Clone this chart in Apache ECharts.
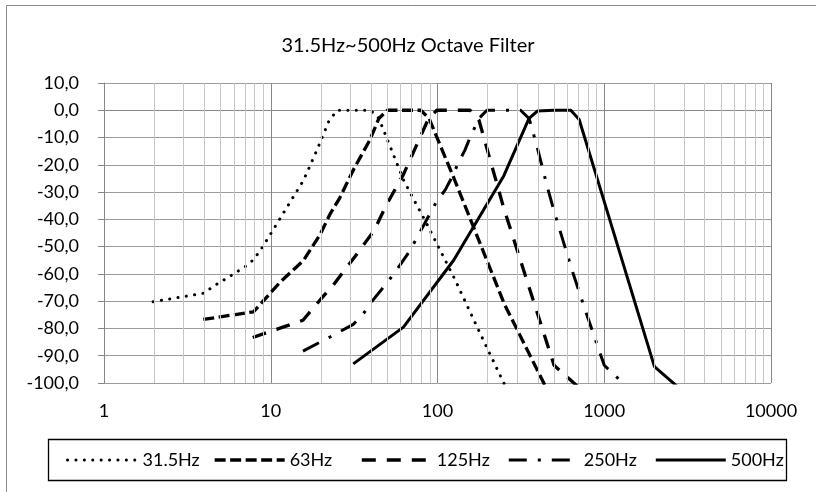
<!DOCTYPE html>
<html>
<head>
<meta charset="utf-8">
<script src="https://cdn.jsdelivr.net/npm/echarts@6/dist/echarts.min.js"></script>
<style>html,body{margin:0;padding:0;background:#fff}#c{width:816px;height:492px}</style>
</head>
<body>
<div id="c"></div>
<script>
// ---- data ----
const seriesNames = ['31.5Hz', '63Hz', '125Hz', '250Hz', '500Hz'];

const freq31 = [1.97, 3.94, 4.74, 5.75, 7.0, 7.88, 8.83, 9.9, 15.75, 19.1, 22.3, 25, 31.5, 39.7, 44.5, 63, 86, 126, 176, 252, 504];
const db31   = [-70.2, -67.1, -63.8, -60.7, -57.4, -54.8, -50.6, -45.7, -25.6, -14, -4, 0, 0, 0, -3, -26, -41.5, -61.5, -80.5, -100.5, -125];

const freq63 = [3.94, 7.875, 11.4, 15.75, 19.8, 22.7, 26, 31.5, 39.3, 44.5, 50, 63, 79.4, 89, 126, 252, 504];
const db63   = [-76.7, -73.9, -63, -55, -45.5, -38, -32, -21.5, -10.9, -3, 0, 0, 0, -3, -25.2, -71.1, -108];

const freq125 = [7.8, 15.6, 20.5, 23.5, 29.8, 33.6, 37.6, 41.9, 45.2, 49.4, 62.5, 88.4, 99, 125, 157, 177, 250, 500, 1000];
const db125   = [-83.3, -77, -68.4, -64.4, -56.1, -51.9, -47.8, -43.9, -39.6, -34.7, -23.5, -3, 0, 0, 0, -3.5, -36, -93.5, -110];

const freq250 = [15.6, 22.4, 31.25, 36.4, 41, 46.2, 52.6, 59.7, 66.8, 73.7, 98.6, 111.3, 121, 133, 146, 156, 177, 198, 250, 315, 354, 393, 455, 500, 647, 784, 1000, 2000];
const db250   = [-88.3, -83.3, -78.5, -74.1, -69.6, -65.7, -61.3, -56.7, -52.4, -47.8, -33.5, -29.2, -25, -19.4, -14.6, -10.3, -3, 0, 0, 0, -3, -12.7, -28, -37, -59.4, -74.8, -93.5, -111];

const freq500 = [31.25, 62.5, 125, 250, 354, 397, 500, 630, 707, 1000, 2000, 4000];
const db500   = [-93, -79.5, -55, -24, -3, -0.3, 0, 0, -3.4, -33.5, -94, -110];

const xTickLabels = ['1', '10', '100', '1000', '10000'];
const minorGridFreqs = [2,3,4,5,6,7,8,9, 20,30,40,50,60,70,80,90, 200,300,400,500,600,700,800,900, 2000,3000,4000,5000,6000,7000,8000,9000];
const titleText = '31.5Hz~500Hz Octave Filter';

// ---- chart ----
const FONT = 'Lato';
const pairs = (f, d) => f.map((v, i) => [v, d[i]]);
const lineStyles = [
  { width: 3, type: [0.1, 8.3], cap: 'round' },
  { width: 3.3, type: [11, 4.5], cap: 'butt' },
  { width: 3.3, type: [14, 11], cap: 'butt' },
  { width: 3, type: [18, 11, 3, 11], cap: 'butt' },
  { width: 3, type: 'solid', cap: 'butt' }
];
const dataSets = [pairs(freq31, db31), pairs(freq63, db63), pairs(freq125, db125), pairs(freq250, db250), pairs(freq500, db500)];

const chart = echarts.init(document.getElementById('c'), null, { renderer: 'canvas' });
const series = [{
  type: 'line', name: '__minor', data: [], z: 1, silent: true, animation: false,
  markLine: {
    silent: true, animation: false, symbol: ['none', 'none'],
    label: { show: false }, emphasis: { disabled: true },
    lineStyle: { color: '#c6c6c6', type: 'solid', width: 1 },
    data: minorGridFreqs.map(v => ({ xAxis: v }))
  }
}];
seriesNames.forEach((n, i) => {
  series.push({
    type: 'line', name: n, data: dataSets[i], symbol: 'none', showSymbol: false,
    z: 3, clip: true, animation: false,
    lineStyle: Object.assign({ color: '#000' }, lineStyles[i]),
    itemStyle: { color: '#000' },
    emphasis: { disabled: true }
  });
});

chart.setOption({
  animation: false,
  backgroundColor: '#fff',
  title: {
    text: titleText, left: 'center', top: 36, padding: 0,
    textStyle: { fontFamily: FONT, fontSize: 20, fontWeight: 'normal', color: '#000' }
  },
  grid: { left: 104, top: 83, width: 667, height: 300, outerBoundsMode: 'none' },
  xAxis: {
    type: 'log', logBase: 10, min: 1, max: 10000,
    axisLine: { show: true, lineStyle: { color: '#878787', width: 1 } },
    axisTick: { show: true, inside: false, length: 5, lineStyle: { color: '#878787' } },
    axisLabel: {
      margin: 19, fontFamily: FONT, fontSize: 18, color: '#000',
      formatter: v => { const s = String(Math.round(v)); return xTickLabels.includes(s) ? s : ''; }
    },
    splitLine: { show: true, lineStyle: { color: '#878787', width: 1 } }
  },
  yAxis: {
    type: 'value', min: -100, max: 10, interval: 10,
    axisLine: { show: true, lineStyle: { color: '#878787', width: 1 } },
    axisTick: { show: true, inside: false, length: 6, lineStyle: { color: '#878787' } },
    axisLabel: {
      margin: 25, fontFamily: FONT, fontSize: 18, color: '#000',
      formatter: v => v.toFixed(1).replace('.', ',')
    },
    splitLine: { show: true, lineStyle: { color: '#9c9c9c', width: 1 } }
  },
  legend: {
    data: seriesNames, left: 66, top: 450, padding: 0, orient: 'horizontal',
    itemWidth: 70, itemHeight: 14, itemGap: 10.5, selectedMode: false,
    itemStyle: { opacity: 0 },
    lineStyle: { width: 'inherit' },
    textStyle: { fontFamily: FONT, fontSize: 18, color: '#000', width: 60, lineHeight: 20 }
  },
  graphic: [
    { type: 'rect', silent: true, z: -10, shape: { x: 6.5, y: 5.5, width: 900, height: 700 },
      style: { fill: 'none', stroke: '#888', lineWidth: 1 } },
    { type: 'rect', silent: true, shape: { x: 48.5, y: 439.5, width: 738, height: 41 },
      style: { fill: 'none', stroke: '#000', lineWidth: 1.3 } }
  ],
  series: series
});
</script>
</body>
</html>
